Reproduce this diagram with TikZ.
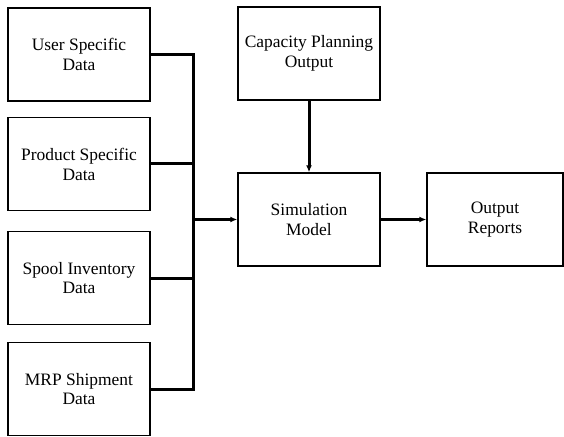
\documentclass[tikz,border=0pt]{standalone}
\usepackage{fontspec}
\setmainfont{Liberation Serif}
\newfontfamily\tnr{Liberation Serif}
\usetikzlibrary{arrows.meta}
\begin{document}
\begin{tikzpicture}[x=1bp,y=-1bp,
  blk/.style={draw,line width=1.4bp,minimum width=142bp,minimum height=93bp,align=center,
    font=\tnr\fontsize{17.5}{20}\selectfont,inner sep=0pt},
  conn/.style={line width=3bp},
  arr/.style={conn,-{Latex[length=7bp,width=6bp]}}]
\useasboundingbox (0,0) rectangle (564,437);
\node[blk] (user) at (79,54.5) {User Specific\\Data};
\node[blk] (prod) at (79,164) {Product Specific\\Data};
\node[blk] (spool) at (79,278) {Spool Inventory\\Data};
\node[blk] (mrp) at (79,389) {MRP Shipment\\Data};
\node[blk] (cap) at (309,53.5) {Capacity Planning\\Output};
\node[blk] (sim) at (309,219.5) {Simulation\\Model};
\node[blk,minimum width=136bp] (out) at (495,219.5) {Output\\Reports};
\coordinate (bt) at (193,54.5);
\coordinate (bb) at (193,389);
\draw[conn] (user.east) -- (bt) -- (bb) -- (mrp.east);
\draw[conn] (prod.east) -- (prod.east -| bt);
\draw[conn] (spool.east) -- (spool.east -| bt);
\draw[arr] (bt |- sim.west) -- (sim.west);
\draw[arr] (cap.south) -- (sim.north);
\draw[arr] (sim.east) -- (out.west);
\end{tikzpicture}
\end{document}
